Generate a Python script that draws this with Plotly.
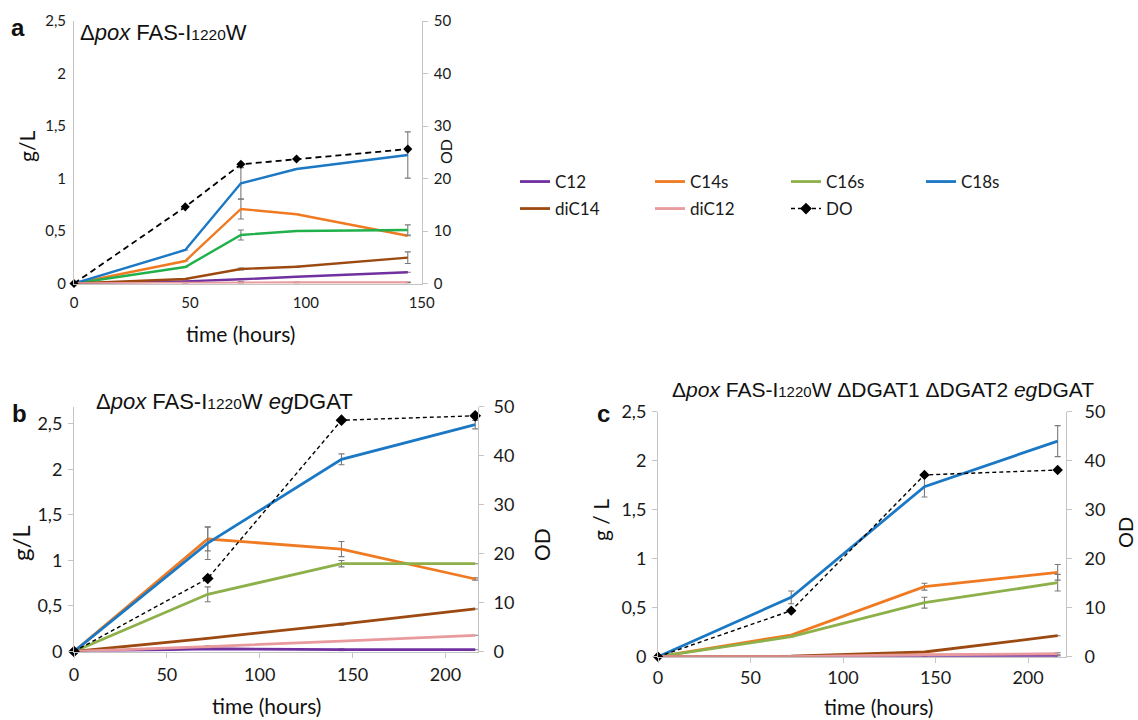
import plotly.graph_objects as go

# ---------------- data ----------------
series = ["C12", "C14s", "C16s", "C18s", "diC14", "diC12"]

# Panel a : Δpox FAS-I1220W
hours_a = [0, 48, 72, 96, 144]
a_C12 = [0, 0.02, 0.04, 0.065, 0.107]
a_C14s = [0, 0.214, 0.71, 0.66, 0.455]
a_C16s = [0, 0.157, 0.462, 0.50, 0.51]
a_C18s = [0, 0.319, 0.954, 1.09, 1.224]
a_diC14 = [0, 0.043, 0.138, 0.16, 0.246]
a_diC12 = [0, 0.005, 0.01, 0.01, 0.01]
a_DO = [0, 14.6, 22.7, 23.7, 25.6]
a_err_C12 = [None, None, None, None, None]
a_err_C14s = [None, None, 0.095, None, None]
a_err_C16s = [None, None, 0.048, None, 0.048]
a_err_C18s = [None, None, 0.15, None, 0.22]
a_err_diC14 = [None, 0.005, 0.01, 0.005, 0.055]
a_err_diC12 = [None, 0.005, 0.008, 0.005, 0.005]

# Panel b : Δpox FAS-I1220W egDGAT
hours_b = [0, 72, 144, 216]
b_C12 = [0, 0.03, 0.02, 0.02]
b_C14s = [0, 1.235, 1.125, 0.796]
b_C16s = [0, 0.628, 0.964, 0.964]
b_C18s = [0, 1.19, 2.11, 2.49]
b_diC14 = [0, 0.145, 0.30, 0.467]
b_diC12 = [0, 0.053, 0.115, 0.178]
b_DO = [0, 14.9, 47.2, 48.1]
b_err_C12 = [None, None, 0.01, None]
b_err_C14s = [None, 0.13, 0.083, 0.012]
b_err_C16s = [None, 0.082, 0.035, None]
b_err_C18s = [None, 0.18, 0.06, 0.046]
b_err_diC14 = [None, None, 0.01, None]
b_err_diC12 = [None, 0.01, None, None]

# Panel c : Δpox FAS-I1220W ΔDGAT1 ΔDGAT2 egDGAT
hours_c = [0, 72, 144, 216]
c_C12 = [0, 0.0, 0.005, 0.008]
c_C14s = [0, 0.221, 0.714, 0.861]
c_C16s = [0, 0.204, 0.551, 0.755]
c_C18s = [0, 0.606, 1.735, 2.20]
c_diC14 = [0, 0.005, 0.048, 0.214]
c_diC12 = [0, 0.0, 0.02, 0.03]
c_DO = [0, 9.4, 37.1, 38.1]
c_err_C12 = [None, None, None, None]
c_err_C14s = [None, None, 0.035, 0.08]
c_err_C16s = [None, None, 0.055, 0.085]
c_err_C18s = [None, 0.065, 0.105, 0.158]
c_err_diC14 = [None, None, None, None]
c_err_diC12 = [None, 0.01, None, 0.01]

x_ticks = [0, 50, 100, 150, 200]
gl_ticks = [0, 0.5, 1, 1.5, 2, 2.5]
od_ticks = [0, 10, 20, 30, 40, 50]

# ---------------- styling ----------------
W, H = 1138, 720
COL = {"C12": "#7030a0", "C14s": "#f07a22", "C16s": "#8db04a", "C18s": "#1a78c4",
       "diC14": "#9c4a12", "diC12": "#e89a9c"}
GREEN_A = "#20b04c"
AXC = "#c4c4c4"
ERRC = "#7a7a7a"
TICKF = "Lato, sans-serif"
TITF = "Liberation Sans, Arial, sans-serif"


def px(x):
    return x / W


def py(y):
    return 1 - y / H


fig = go.Figure()

panels = [
    ("a", hours_a, [a_C12, a_C14s, a_C16s, a_C18s, a_diC14, a_diC12], a_DO,
     [a_err_C12, a_err_C14s, a_err_C16s, a_err_C18s, a_err_diC14, a_err_diC12],
     "x", "y", "y2", 2.4, 1.8, "6px,4px", 7),
    ("b", hours_b, [b_C12, b_C14s, b_C16s, b_C18s, b_diC14, b_diC12], b_DO,
     [b_err_C12, b_err_C14s, b_err_C16s, b_err_C18s, b_err_diC14, b_err_diC12],
     "x2", "y3", "y4", 2.8, 1.4, "4px,3px", 9),
    ("c", hours_c, [c_C12, c_C14s, c_C16s, c_C18s, c_diC14, c_diC12], c_DO,
     [c_err_C12, c_err_C14s, c_err_C16s, c_err_C18s, c_err_diC14, c_err_diC12],
     "x3", "y5", "y6", 2.8, 1.4, "4px,3px", 8),
]

legend_ids = {"C12": "legend", "C14s": "legend2", "C16s": "legend3", "C18s": "legend4",
              "diC14": "legend5", "diC12": "legend6", "DO": "legend7"}

for key, hrs, vals, do_vals, errs, xa, ya, ya2, lw, dlw, dash, msz in panels:
    for name, v, e in zip(series, vals, errs):
        color = COL[name]
        if key == "a" and name == "C16s":
            color = GREEN_A
        fig.add_trace(go.Scatter(
            x=hrs, y=v, mode="lines", name=name,
            line=dict(color=color, width=lw),
            error_y=dict(type="data", array=e, visible=True, color=ERRC,
                         thickness=1.1, width=3),
            xaxis=xa, yaxis=ya, cliponaxis=False,
            showlegend=(key == "b"), legend=legend_ids[name],
        ))
    fig.add_trace(go.Scatter(
        x=hrs, y=do_vals, mode="lines+markers", name="DO",
        line=dict(color="black", width=dlw, dash=dash),
        marker=dict(symbol="diamond", size=msz, color="black"),
        xaxis=xa, yaxis=ya2, cliponaxis=False,
        showlegend=(key == "b"), legend=legend_ids["DO"],
    ))

# ---------------- axes ----------------
def xax(domain, rng, anchor, fs, ticks, standoff):
    return dict(domain=domain, range=rng, anchor=anchor, tickvals=x_ticks,
                showgrid=False, zeroline=False, showline=True, linecolor=AXC, linewidth=1,
                ticks=ticks, ticklen=5, tickcolor=AXC, automargin=False,
                ticklabelstandoff=standoff,
                tickfont=dict(family=TICKF, size=fs, color="#1a1a1a"))


def yax(domain, rng, anchor, fs, ticks, vals, standoff, **kw):
    d = dict(range=rng, anchor=anchor, tickvals=vals,
             showgrid=False, zeroline=False, showline=True, linecolor=AXC, linewidth=1,
             ticks=ticks, ticklen=5, tickcolor=AXC, automargin=False,
             ticklabelstandoff=standoff,
             tickfont=dict(family=TICKF, size=fs, color="#1a1a1a"))
    if domain is not None:
        d["domain"] = domain
    d.update(kw)
    return d


dom_a_x = [px(74), px(421.7)]
dom_a_y = [py(283.5), py(21)]
dom_b_x = [px(74), px(478)]
dom_b_y = [py(651.5), py(406.5)]
dom_c_x = [px(658), px(1066)]
dom_c_y = [py(656.7), py(411.7)]

fig.update_layout(
    xaxis=xax(dom_a_x, [0, 150], "y", 15, "", 5),
    yaxis=yax(dom_a_y, [0, 2.5], "x", 15, "", gl_ticks, 4),
    yaxis2=yax(None, [0, 50], "x", 15, "outside", od_ticks, 3, overlaying="y", side="right"),
    xaxis2=xax(dom_b_x, [0, 217.5], "y3", 18, "outside", 2),
    yaxis3=yax(dom_b_y, [0, 2.69], "x2", 18, "outside", gl_ticks, 2),
    yaxis4=yax(None, [0, 50], "x2", 18, "outside", od_ticks, 6, overlaying="y3", side="right"),
    xaxis3=xax(dom_c_x, [0, 220.5], "y5", 18, "outside", 0),
    yaxis5=yax(dom_c_y, [0, 2.5], "x3", 18, "outside", gl_ticks, 2),
    yaxis6=yax(None, [0, 50], "x3", 18, "outside", od_ticks, 9, overlaying="y5", side="right"),
)

# ---------------- legends (one per entry, laid out in a 4 + 3 grid) ----------------
leg_pos = {"legend": (515, 182), "legend2": (650, 182), "legend3": (786, 182), "legend4": (921, 182),
           "legend5": (515, 209), "legend6": (650, 209), "legend7": (786, 209)}
for lid, (lx, ly) in leg_pos.items():
    fig.update_layout({lid: dict(x=px(lx), y=py(ly), xanchor="left", yanchor="middle",
                                 xref="paper", yref="paper", bgcolor="rgba(0,0,0,0)",
                                 borderwidth=0, orientation="h",
                                 font=dict(family=TICKF, size=17, color="#1a1a1a"))})

# ---------------- text ----------------
ann = []


def add(text, x, y, size, family=TICKF, angle=0, xanchor="center", color="#111"):
    ann.append(dict(text=text, x=px(x), y=py(y), xref="paper", yref="paper",
                    showarrow=False, textangle=angle, xanchor=xanchor, yanchor="middle",
                    font=dict(family=family, size=size, color=color)))


sub = "<span style='font-size:15.5px'>1220</span>"
sub_c = "<span style='font-size:15px'>1220</span>"
add("<b>a</b>", 17.5, 28, 24, TITF)
add("<b>b</b>", 19, 414, 24, TITF)
add("<b>c</b>", 604, 413, 24, TITF)
add("Δ<i>pox</i> FAS-I" + sub + "W", 78, 33, 22, TITF, xanchor="left")
add("Δ<i>pox</i> FAS-I" + sub + "W <i>eg</i>DGAT", 94, 401, 22, TITF, xanchor="left")
add("Δ<i>pox</i> FAS-I" + sub_c + "W ΔDGAT1 ΔDGAT2 <i>eg</i>DGAT", 670, 389, 21, TITF, xanchor="left")
add("g/L", 27, 147, 21, angle=-90)
add("g/L", 20, 543, 24, angle=-90)
add("g / L", 600, 520, 21, angle=-90)
add("OD", 445, 152, 16, angle=-90)
add("OD", 541, 545, 21, angle=-90)
add("OD", 1125, 533, 20, angle=-90)
add("time (hours)", 240, 333, 21)
add("time (hours)", 266, 705, 21)
add("time (hours)", 878, 706, 21)

fig.update_layout(
    annotations=ann,
    width=W, height=H,
    autosize=False,
    margin=dict(l=0, r=0, t=0, b=0, pad=0, autoexpand=False),
    paper_bgcolor="white", plot_bgcolor="white",
    separators=", ",
    showlegend=True,
)

fig.write_html("out.html", config={"displayModeBar": False, "responsive": False},
               post_script="document.body.style.margin='0';document.body.style.overflow='hidden';")
